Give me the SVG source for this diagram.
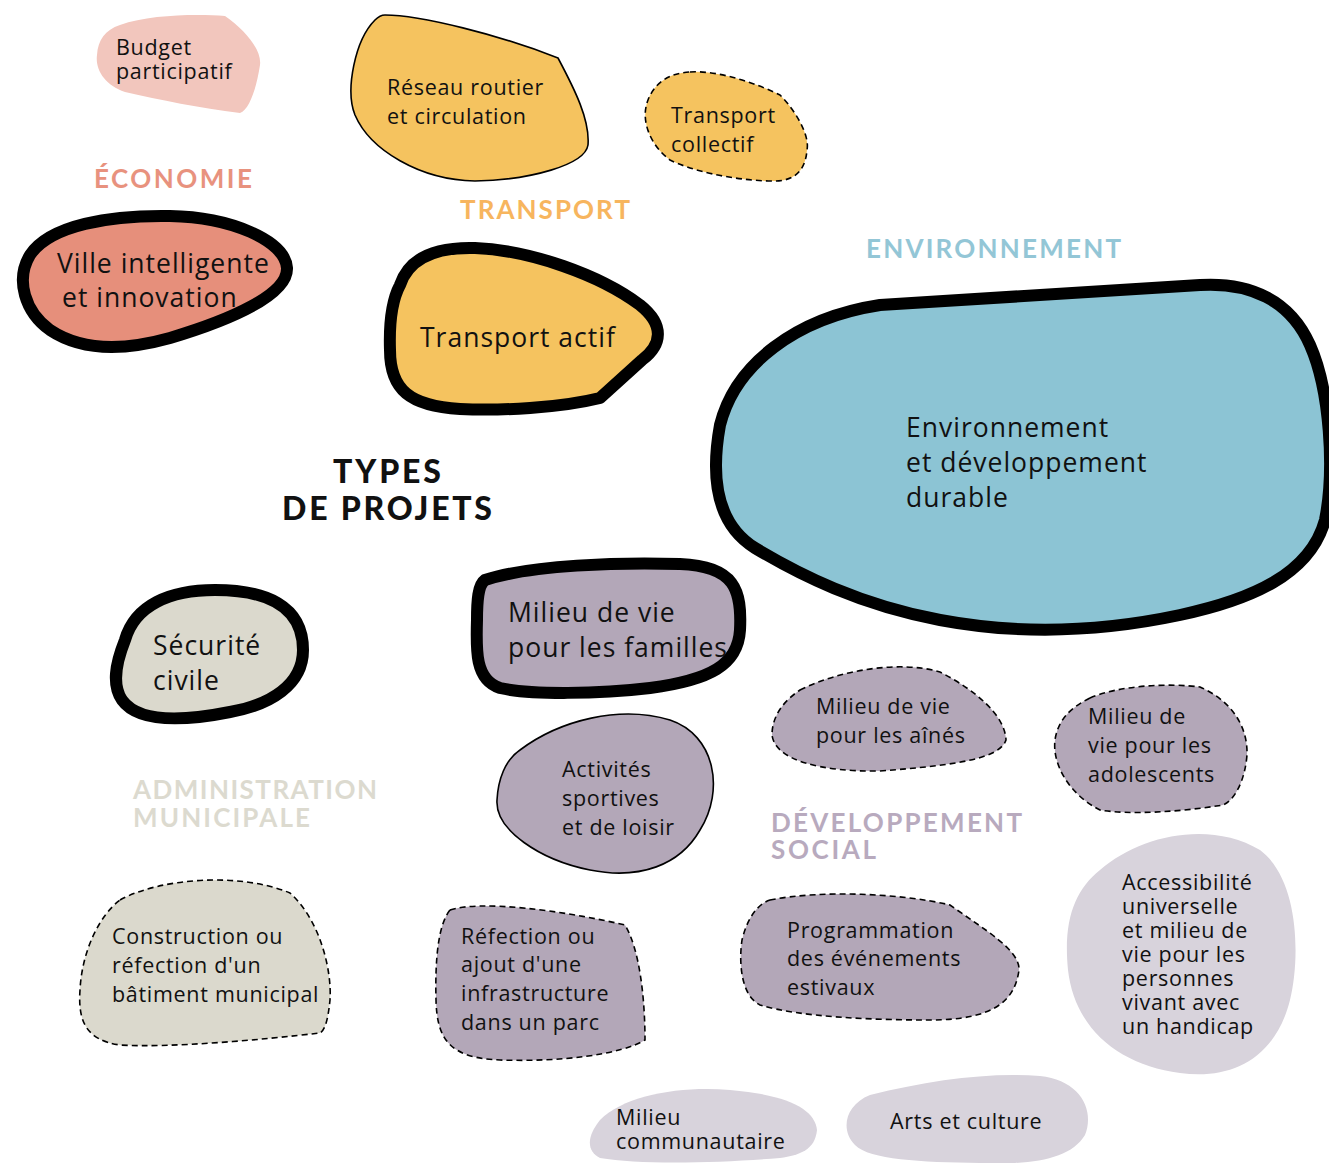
<svg xmlns="http://www.w3.org/2000/svg" width="1329" height="1163" viewBox="0 0 1329 1163">
  <style>
    .t { font-family: "Open Sans", Lato, "Liberation Sans", sans-serif; fill: #111; }
    .s22 { font-size: 21.5px; letter-spacing: 0.7px; }
    .s27 { font-size: 26.5px; letter-spacing: 1px; }
    .cat { font-family: Lato, "Open Sans", "Liberation Sans", sans-serif; font-weight: 700; font-size: 26px; }
    .thick { stroke: #000; stroke-width: 12; stroke-linejoin: round; }
    .thin { stroke: #000; stroke-width: 1.6; }
    .dash { stroke: #000; stroke-width: 1.6; stroke-dasharray: 6 4; }
    .pink { fill: #F2C6BD; }
    .salmon { fill: #E68F7B; }
    .yellow { fill: #F5C35F; }
    .blue { fill: #8CC4D4; }
    .stone { fill: #DBD9CD; }
    .mauve { fill: #B3A7B8; }
    .lilac { fill: #D8D3DC; }
  </style>

  <!-- Category headings -->
  <g id="labels">
    <text class="cat" x="94" y="188" fill="#E8927E" textLength="158">ÉCONOMIE</text>
    <text class="cat" x="460" y="219" fill="#F7B55E" textLength="170">TRANSPORT</text>
    <text class="cat" x="866" y="258" fill="#93C6D6" textLength="255">ENVIRONNEMENT</text>
    <text class="cat" x="133" y="799" fill="#DCDACF" textLength="244">ADMINISTRATION</text>
    <text class="cat" x="133" y="827" fill="#DCDACF" textLength="177">MUNICIPALE</text>
    <text class="cat" x="771" y="832" fill="#B8AABE" textLength="251">DÉVELOPPEMENT</text>
    <text class="cat" x="771" y="859" fill="#B8AABE" textLength="105">SOCIAL</text>
    <text x="333" y="483" font-family="Lato, 'Open Sans', 'Liberation Sans', sans-serif" font-weight="900" font-size="32" fill="#111" textLength="108">TYPES</text>
    <text x="282" y="520" font-family="Lato, 'Open Sans', 'Liberation Sans', sans-serif" font-weight="900" font-size="32" fill="#111" textLength="210">DE PROJETS</text>
  </g>

  <!-- Économie -->
  <g id="budget-participatif">
    <path class="pink" d="M120,25 C150,14 200,14 225,16 C245,30 262,50 260,65 C257,85 250,110 240,113 C200,108 160,100 125,92 C105,85 95,70 97,55 C98,40 105,30 120,25 Z"/>
    <text class="t s22" x="116" y="55">Budget</text>
    <text class="t s22" x="116" y="79">participatif</text>
  </g>
  <g id="ville-intelligente">
    <path class="salmon thick" d="M30,255 C50,225 110,215 170,216 C230,217 285,240 287,268 C288,295 230,320 170,338 C120,352 80,350 50,330 C25,312 15,280 30,255 Z"/>
    <text class="t s27" x="57" y="273">Ville intelligente</text>
    <text class="t s27" x="62" y="307">et innovation</text>
  </g>

  <!-- Transport -->
  <g id="reseau-routier">
    <path class="yellow thin" d="M385,15 C420,15 500,35 558,58 C575,90 590,120 588,145 C585,165 530,180 475,181 C420,180 370,150 355,115 C345,90 355,40 375,20 C378,17 381,15 385,15 Z"/>
    <text class="t s22" x="387" y="95">Réseau routier</text>
    <text class="t s22" x="387" y="124">et circulation</text>
  </g>
  <g id="transport-collectif">
    <path class="yellow dash" d="M690,72 C720,70 760,85 780,95 C795,110 810,135 807,150 C805,175 790,182 770,181 C730,180 690,170 670,160 C650,145 640,120 648,100 C655,82 670,73 690,72 Z"/>
    <text class="t s22" x="671" y="123">Transport</text>
    <text class="t s22" x="671" y="152">collectif</text>
  </g>
  <g id="transport-actif">
    <path class="yellow thick" d="M400,285 C410,255 440,247 475,248 C530,250 600,275 640,305 C665,325 662,345 642,360 L600,398 C560,408 500,411 460,409 C410,406 390,390 390,350 C389,320 392,300 400,285 Z"/>
    <text class="t s27" x="420" y="347">Transport actif</text>
  </g>

  <!-- Environnement -->
  <g id="environnement">
    <path class="blue thick" stroke-width="14" d="M720,425 C735,365 795,318 880,305 L1200,285 C1250,282 1290,300 1310,345 C1330,390 1335,470 1325,520 C1310,575 1250,600 1180,615 C1100,632 1020,635 940,620 C860,605 800,575 755,548 C718,525 710,480 720,425 Z"/>
    <text class="t s27" x="906" y="437">Environnement</text>
    <text class="t s27" x="906" y="472">et développement</text>
    <text class="t s27" x="906" y="507">durable</text>
  </g>

  <!-- Administration municipale -->
  <g id="securite-civile">
    <path class="stone thick" d="M125,640 C135,605 170,590 215,590 C265,590 303,605 303,650 C303,685 270,705 230,712 C190,720 140,725 122,700 C112,685 115,665 125,640 Z"/>
    <text class="t s27" x="153" y="655">Sécurité</text>
    <text class="t s27" x="153" y="690">civile</text>
  </g>
  <g id="batiment-municipal">
    <path class="stone dash" d="M120,900 C160,878 240,872 290,893 C320,920 332,970 330,1000 C328,1020 325,1030 320,1033 C260,1040 170,1048 120,1045 C85,1040 78,1020 80,990 C82,950 100,915 120,900 Z"/>
    <text class="t s22" x="112" y="944">Construction ou</text>
    <text class="t s22" x="112" y="973">réfection d'un</text>
    <text class="t s22" x="112" y="1002">bâtiment municipal</text>
  </g>

  <!-- Développement social -->
  <g id="milieu-familles">
    <path class="mauve thick" d="M485,580 C530,565 620,562 680,564 C735,566 742,590 740,630 C738,665 710,680 650,688 C600,694 530,695 500,688 C475,680 476,650 477,620 C477,600 478,585 485,580 Z"/>
    <text class="t s27" x="508" y="622">Milieu de vie</text>
    <text class="t s27" x="508" y="657">pour les familles</text>
  </g>
  <g id="activites-sportives">
    <path class="mauve thin" d="M520,750 C560,720 620,705 670,720 C715,735 725,790 700,830 C680,865 640,880 590,870 C540,860 495,830 497,800 C498,780 505,760 520,750 Z"/>
    <text class="t s22" x="562" y="777">Activités</text>
    <text class="t s22" x="562" y="806">sportives</text>
    <text class="t s22" x="562" y="835">et de loisir</text>
  </g>
  <g id="milieu-aines">
    <path class="mauve dash" d="M800,690 C840,670 900,660 940,672 C975,690 1005,715 1006,740 C1000,758 960,765 880,771 C820,772 775,760 772,735 C772,715 785,700 800,690 Z"/>
    <text class="t s22" x="816" y="714">Milieu de vie</text>
    <text class="t s22" x="816" y="743">pour les aînés</text>
  </g>
  <g id="milieu-adolescents">
    <path class="mauve dash" d="M1090,698 C1120,685 1170,683 1200,687 C1230,700 1248,725 1247,755 C1245,780 1235,800 1223,805 C1180,812 1130,815 1100,810 C1070,795 1052,765 1055,740 C1058,720 1070,708 1090,698 Z"/>
    <text class="t s22" x="1088" y="724">Milieu de</text>
    <text class="t s22" x="1088" y="753">vie pour les</text>
    <text class="t s22" x="1088" y="782">adolescents</text>
  </g>
  <g id="accessibilite">
    <path class="lilac" d="M1100,870 C1140,835 1210,820 1260,850 C1300,880 1300,960 1290,1000 C1275,1060 1230,1080 1180,1073 C1120,1065 1075,1030 1068,970 C1063,920 1075,890 1100,870 Z"/>
    <text class="t s22" x="1122" y="890">Accessibilité</text>
    <text class="t s22" x="1122" y="914">universelle</text>
    <text class="t s22" x="1122" y="938">et milieu de</text>
    <text class="t s22" x="1122" y="962">vie pour les</text>
    <text class="t s22" x="1122" y="986">personnes</text>
    <text class="t s22" x="1122" y="1010">vivant avec</text>
    <text class="t s22" x="1122" y="1034">un handicap</text>
  </g>
  <g id="refection-parc">
    <path class="mauve dash" d="M450,910 C480,900 560,910 625,925 C640,950 645,1000 645,1040 C620,1055 560,1062 500,1060 C450,1058 437,1040 436,1000 C435,960 438,925 450,910 Z"/>
    <text class="t s22" x="461" y="944">Réfection ou</text>
    <text class="t s22" x="461" y="972">ajout d'une</text>
    <text class="t s22" x="461" y="1001">infrastructure</text>
    <text class="t s22" x="461" y="1030">dans un parc</text>
  </g>
  <g id="programmation-estivale">
    <path class="mauve dash" d="M770,900 C820,890 900,893 950,905 C985,930 1020,950 1019,970 C1015,1000 995,1020 930,1020 C870,1020 800,1017 760,1005 C740,995 739,960 742,940 C748,915 760,903 770,900 Z"/>
    <text class="t s22" x="787" y="938">Programmation</text>
    <text class="t s22" x="787" y="966">des événements</text>
    <text class="t s22" x="787" y="995">estivaux</text>
  </g>
  <g id="milieu-communautaire">
    <path class="lilac" d="M600,1120 C625,1095 680,1086 730,1090 C790,1095 815,1110 817,1130 C815,1150 800,1155 780,1158 C720,1163 640,1165 600,1158 C585,1150 588,1135 600,1120 Z"/>
    <text class="t s22" x="616" y="1125">Milieu</text>
    <text class="t s22" x="616" y="1149">communautaire</text>
  </g>
  <g id="arts-culture">
    <path class="lilac" d="M870,1095 C930,1080 990,1072 1040,1076 C1080,1080 1095,1110 1085,1135 C1070,1160 1030,1165 980,1163 C920,1162 870,1160 855,1145 C840,1130 845,1105 870,1095 Z"/>
    <text class="t s22" x="890" y="1129">Arts et culture</text>
  </g>
</svg>
